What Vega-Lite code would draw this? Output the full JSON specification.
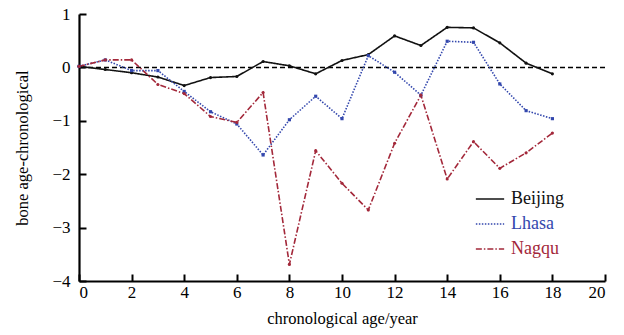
{
  "$schema": "https://vega.github.io/schema/vega-lite/v6.json",
  "width": 526,
  "height": 267,
  "autosize": {"type": "none"},
  "padding": {"left": 79, "top": 14, "right": 19, "bottom": 54},
  "background": "white",
  "config": {
    "view": {"stroke": null},
    "font": "Liberation Serif",
    "axis": {
      "domainColor": "black",
      "domainWidth": 2.2,
      "grid": false,
      "labelFont": "Liberation Serif",
      "labelFontSize": 17,
      "labelColor": "black",
      "titleFont": "Liberation Serif",
      "titleFontSize": 16.5,
      "titleFontWeight": "normal",
      "titleColor": "black"
    }
  },
  "data": {
    "values": [
      {"city": "Beijing", "age": 0, "diff": 0.02},
      {"city": "Beijing", "age": 1, "diff": -0.04},
      {"city": "Beijing", "age": 2, "diff": -0.1},
      {"city": "Beijing", "age": 3, "diff": -0.18},
      {"city": "Beijing", "age": 4, "diff": -0.34},
      {"city": "Beijing", "age": 5, "diff": -0.19},
      {"city": "Beijing", "age": 6, "diff": -0.17},
      {"city": "Beijing", "age": 7, "diff": 0.11},
      {"city": "Beijing", "age": 8, "diff": 0.03},
      {"city": "Beijing", "age": 9, "diff": -0.12},
      {"city": "Beijing", "age": 10, "diff": 0.13},
      {"city": "Beijing", "age": 11, "diff": 0.24},
      {"city": "Beijing", "age": 12, "diff": 0.59},
      {"city": "Beijing", "age": 13, "diff": 0.41},
      {"city": "Beijing", "age": 14, "diff": 0.75},
      {"city": "Beijing", "age": 15, "diff": 0.74},
      {"city": "Beijing", "age": 16, "diff": 0.46},
      {"city": "Beijing", "age": 17, "diff": 0.08},
      {"city": "Beijing", "age": 18, "diff": -0.12},
      {"city": "Lhasa", "age": 0, "diff": 0.02},
      {"city": "Lhasa", "age": 1, "diff": 0.14},
      {"city": "Lhasa", "age": 2, "diff": -0.06},
      {"city": "Lhasa", "age": 3, "diff": -0.06},
      {"city": "Lhasa", "age": 4, "diff": -0.45},
      {"city": "Lhasa", "age": 5, "diff": -0.83},
      {"city": "Lhasa", "age": 6, "diff": -1.06},
      {"city": "Lhasa", "age": 7, "diff": -1.64},
      {"city": "Lhasa", "age": 8, "diff": -0.98},
      {"city": "Lhasa", "age": 9, "diff": -0.54},
      {"city": "Lhasa", "age": 10, "diff": -0.96},
      {"city": "Lhasa", "age": 11, "diff": 0.22},
      {"city": "Lhasa", "age": 12, "diff": -0.09},
      {"city": "Lhasa", "age": 13, "diff": -0.52},
      {"city": "Lhasa", "age": 14, "diff": 0.49},
      {"city": "Lhasa", "age": 15, "diff": 0.47},
      {"city": "Lhasa", "age": 16, "diff": -0.31},
      {"city": "Lhasa", "age": 17, "diff": -0.81},
      {"city": "Lhasa", "age": 18, "diff": -0.96},
      {"city": "Nagqu", "age": 0, "diff": 0.02},
      {"city": "Nagqu", "age": 1, "diff": 0.14},
      {"city": "Nagqu", "age": 2, "diff": 0.14},
      {"city": "Nagqu", "age": 3, "diff": -0.32},
      {"city": "Nagqu", "age": 4, "diff": -0.49},
      {"city": "Nagqu", "age": 5, "diff": -0.92},
      {"city": "Nagqu", "age": 6, "diff": -1.03},
      {"city": "Nagqu", "age": 7, "diff": -0.47},
      {"city": "Nagqu", "age": 8, "diff": -3.69},
      {"city": "Nagqu", "age": 9, "diff": -1.56},
      {"city": "Nagqu", "age": 10, "diff": -2.17},
      {"city": "Nagqu", "age": 11, "diff": -2.67},
      {"city": "Nagqu", "age": 12, "diff": -1.42},
      {"city": "Nagqu", "age": 13, "diff": -0.52},
      {"city": "Nagqu", "age": 14, "diff": -2.09},
      {"city": "Nagqu", "age": 15, "diff": -1.39},
      {"city": "Nagqu", "age": 16, "diff": -1.89},
      {"city": "Nagqu", "age": 17, "diff": -1.6},
      {"city": "Nagqu", "age": 18, "diff": -1.23}
    ]
  },
  "encoding": {
    "x": {
      "field": "age", "type": "quantitative",
      "scale": {"domain": [0, 20], "nice": false},
      "axis": {"values": [0, 2, 4, 6, 8, 10, 12, 14, 16, 18, 20], "title": "chronological age/year", "ticks": true, "tickSize": -7, "tickColor": "black", "tickWidth": 2, "labelPadding": 10, "titlePadding": 10}
    },
    "y": {
      "field": "diff", "type": "quantitative",
      "scale": {"domain": [-4, 1], "nice": false, "zero": false},
      "axis": {"values": [-4, -3, -2, -1, 0, 1], "title": "bone age-chronological", "ticks": true, "tickSize": -7, "tickColor": "black", "tickWidth": 2, "labelPadding": 16, "titlePadding": 21}
    }
  },
  "layer": [
    {
      "data": {"values": [{"y0": 0}]},
      "mark": {"type": "rule", "color": "black", "strokeWidth": 1.5, "strokeDash": [5, 3]},
      "encoding": {"y": {"field": "y0", "type": "quantitative"}, "x": null}
    },
    {
      "mark": {"type": "line", "strokeWidth": 1.6},
      "encoding": {
        "color": {
          "field": "city", "type": "nominal",
          "scale": {"domain": ["Beijing", "Lhasa", "Nagqu"], "range": ["#111111", "#3347ad", "#a3283a"]},
          "legend": {
            "title": null,
            "orient": "none",
            "legendX": 396,
            "legendY": 170,
            "symbolType": "stroke",
            "symbolSize": 800,
            "symbolStrokeWidth": 1.6,
            "labelFontSize": 18,
            "labelFont": "Liberation Serif",
            "rowPadding": 1,
            "labelOffset": 6,
            "encode": {"labels": {"update": {"fill": {"scale": "color", "field": "value"}}}}
          }
        },
        "strokeDash": {
          "field": "city", "type": "nominal",
          "scale": {"domain": ["Beijing", "Lhasa", "Nagqu"], "range": [[1, 0], [1.5, 1.5], [6, 2, 1.5, 2]]},
          "legend": null
        }
      }
    },
    {
      "mark": {"type": "point", "filled": true, "size": 10, "opacity": 1},
      "encoding": {
        "color": {"field": "city", "type": "nominal", "legend": null},
        "shape": {"field": "city", "type": "nominal", "scale": {"domain": ["Beijing", "Lhasa", "Nagqu"], "range": ["circle", "square", "circle"]}, "legend": null}
      }
    }
  ],
  "resolve": {"legend": {"color": "independent", "shape": "independent", "strokeDash": "independent"}}
}
